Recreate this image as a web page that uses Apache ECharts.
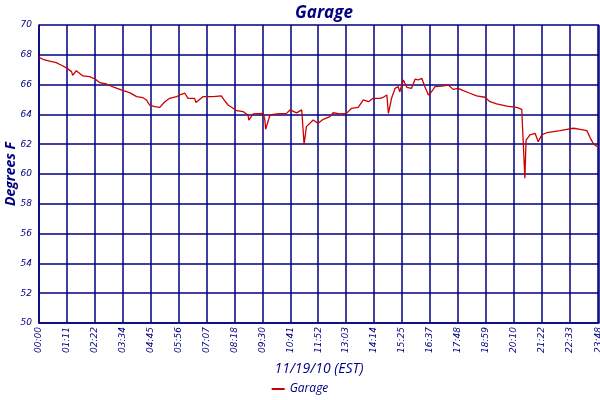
<!DOCTYPE html>
<html>
<head>
<meta charset="utf-8">
<title>Garage</title>
<script src="https://cdn.jsdelivr.net/npm/echarts@6/dist/echarts.min.js"></script>
<style>
  html, body { margin: 0; padding: 0; background: #fff; }
  #chart { width: 600px; height: 400px; }
</style>
</head>
<body>
<div id="chart"></div>
<script>
// minutes since midnight
const minutes = [0, 10, 27, 44, 61, 72, 83, 86, 95, 112, 129, 144, 155, 172, 189, 199, 215, 231, 249, 265,
  274, 282, 295, 308, 313, 321, 333, 351, 363, 372, 380, 397, 400, 418, 444, 465, 471, 482, 495, 504,
  521, 533, 535, 546, 572, 576, 578, 589, 606, 631, 640, 657, 670, 674, 676, 682, 699, 712, 725, 742,
  750, 767, 784, 797, 814, 827, 840, 852, 869, 878, 887, 891, 899, 908, 916, 920, 929, 938, 950, 959,
  967, 976, 984, 993, 1001, 1010, 1027, 1044, 1056, 1069, 1082, 1099, 1116, 1137, 1150, 1167, 1193, 1218, 1231, 1235,
  1239, 1242, 1252, 1265, 1273, 1282, 1295, 1312, 1329, 1346, 1363, 1380, 1397, 1405, 1414, 1426];
// degrees F
const garage = [67.83, 67.7, 67.58, 67.47, 67.25, 67.09, 66.87, 66.62, 66.93, 66.58, 66.53, 66.36, 66.13, 66.04, 65.84, 65.75, 65.59, 65.46, 65.19, 65.12,
  64.97, 64.63, 64.52, 64.47, 64.35, 64.85, 65.08, 65.19, 65.35, 65.42, 65.08, 65.08, 64.8, 65.19, 65.19, 65.24, 65.01, 64.63, 64.41, 64.25,
  64.18, 63.96, 63.62, 64.03, 64.07, 63.62, 63.0, 63.96, 64.03, 64.07, 64.3, 64.1, 64.3, 64.3, 62.0, 63.18, 63.62, 63.4, 63.67, 63.85,
  64.11, 64.03, 64.07, 64.41, 64.47, 64.97, 64.85, 65.08, 65.08, 65.15, 65.3, 64.07, 65.08, 65.75, 65.86, 65.52, 66.31, 65.82, 65.75, 66.36,
  66.31, 66.42, 65.86, 65.3, 65.52, 65.86, 65.9, 65.97, 65.68, 65.75, 65.59, 65.42, 65.24, 65.15, 64.85, 64.7, 64.56, 64.47, 64.34, 62.0,
  59.71, 62.28, 62.62, 62.73, 62.17, 62.62, 62.77, 62.84, 62.91, 63.0, 63.07, 63.0, 62.91, 62.46, 62.01, 61.79];
const xTickLabels = ['00:00', '01:11', '02:22', '03:34', '04:45', '05:56', '07:07', '08:18', '09:30', '10:41', '11:52',
  '13:03', '14:14', '15:25', '16:37', '17:48', '18:59', '20:10', '21:22', '22:33', '23:44', '23:48'];
const xStep = 71.2;
const xMax = 1428;

// tick positions: every 71.2 minutes, plus the last reading
const xTicks = xTickLabels.map((_, i) => (i === xTickLabels.length - 1 ? xMax : +(i * xStep).toFixed(1)));

const navy = '#000080';
const labelFont = { color: navy, fontStyle: 'italic', fontFamily: 'DejaVu Sans', fontSize: 9 };

const chart = echarts.init(document.getElementById('chart'));
chart.setOption({
  animation: false,
  backgroundColor: '#fff',
  title: {
    text: 'Garage',
    left: 319,
    top: 0,
    textAlign: 'center',
    textStyle: { color: navy, fontStyle: 'italic', fontWeight: 'bold', fontFamily: 'Open Sans', fontSize: 17 }
  },
  legend: {
    data: ['Garage'],
    bottom: 0,
    left: 'center',
    icon: 'rect',
    itemWidth: 13,
    itemHeight: 2,
    textStyle: { color: navy, fontStyle: 'italic', fontFamily: 'Open Sans', fontSize: 12 }
  },
  grid: { left: 39, right: 1, top: 25, bottom: 77, containLabel: false, outerBoundsMode: 'none' },
  xAxis: {
    type: 'value',
    min: 0,
    max: xMax,
    name: '11/19/10 (EST)',
    nameLocation: 'middle',
    nameGap: 39,
    nameMoveOverlap: false,
    nameTextStyle: { color: navy, fontStyle: 'italic', fontFamily: 'Open Sans', fontSize: 14 },
    axisLine: { lineStyle: { color: navy, width: 1.5 } },
    axisTick: { show: false, customValues: xTicks },
    axisLabel: Object.assign({
      rotate: 90,
      margin: 4,
      hideOverlap: false,
      showMinLabel: true,
      showMaxLabel: true,
      customValues: xTicks,
      formatter: v => xTickLabels[xTicks.indexOf(v)]
    }, labelFont),
    splitLine: { show: true, lineStyle: { color: navy, width: 1.5 } }
  },
  yAxis: {
    type: 'value',
    min: 50,
    max: 70,
    interval: 2,
    name: 'Degrees F',
    nameLocation: 'middle',
    nameGap: 21,
    nameMoveOverlap: false,
    nameTextStyle: { color: navy, fontStyle: 'italic', fontWeight: 'bold', fontFamily: 'Open Sans', fontSize: 14 },
    axisLine: { show: true, lineStyle: { color: navy, width: 1.5 } },
    axisTick: { show: false },
    axisLabel: Object.assign({ margin: 7 }, labelFont),
    splitLine: { lineStyle: { color: navy, width: 1.5 } }
  },
  series: [{
    name: 'Garage',
    type: 'line',
    data: minutes.map((m, i) => [m, garage[i]]),
    showSymbol: false,
    symbol: 'none',
    color: '#cc0000',
    lineStyle: { color: '#cc0000', width: 1.3 }
  }]
});
</script>
</body>
</html>
